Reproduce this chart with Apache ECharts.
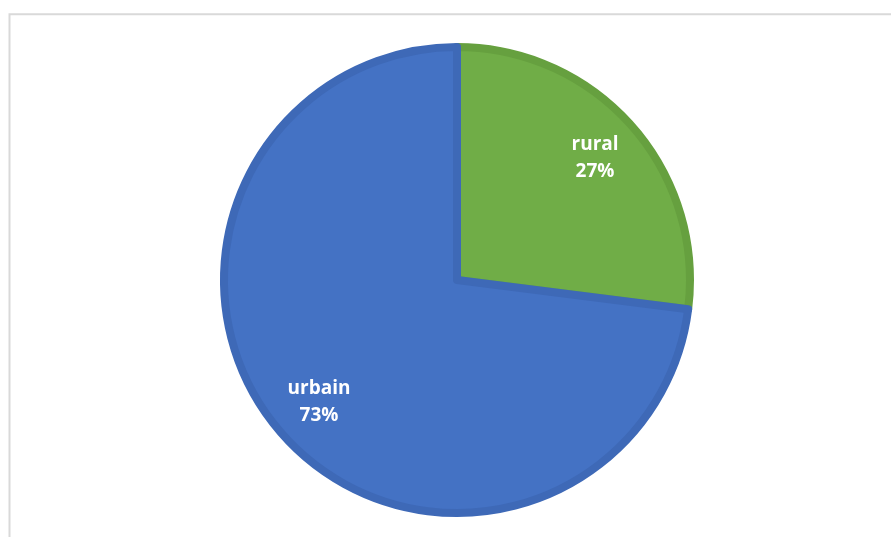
<!DOCTYPE html>
<html>
<head>
<meta charset="utf-8">
<script src="https://cdn.jsdelivr.net/npm/echarts@6/dist/echarts.min.js"></script>
<style>
  html, body { margin: 0; padding: 0; background: #ffffff; }
  #chart { width: 891px; height: 537px; }
</style>
</head>
<body>
<div id="chart"></div>
<script>
// Population split by area type
const categories = ['rural', 'urbain'];
const shares = [27, 73];
const fills = ['#70AD47', '#4472C4'];
const edges = ['#66A03F', '#3E69B7'];

const sliceData = categories.map((name, i) => ({
  name: name,
  value: shares[i],
  itemStyle: { color: fills[i], borderColor: edges[i] }
}));

const labelData = categories.map((name, i) => ({ name: name, value: shares[i] }));

const chart = echarts.init(document.getElementById('chart'), null, { renderer: 'canvas' });
chart.setOption({
  animation: false,
  backgroundColor: '#ffffff',
  graphic: [{
    type: 'rect',
    shape: { x: 9.5, y: 14.3, width: 920, height: 600 },
    style: { fill: 'none', stroke: '#D9D9D9', lineWidth: 2 },
    silent: true
  }],
  series: [
    {
      type: 'pie',
      center: [457, 280],
      radius: [0, 233],
      startAngle: 90,
      clockwise: true,
      itemStyle: { borderWidth: 8 },
      label: { show: false },
      labelLine: { show: false },
      emphasis: { disabled: true },
      data: sliceData
    },
    {
      // transparent ring used only to place the labels further out
      type: 'pie',
      center: [457, 280],
      radius: [150, 212],
      startAngle: 90,
      clockwise: true,
      silent: true,
      itemStyle: { color: 'rgba(0,0,0,0)', borderWidth: 0 },
      label: {
        show: true,
        position: 'inside',
        formatter: '{b}\n{d}%',
        color: '#ffffff',
        fontFamily: 'Open Sans',
        fontWeight: 'bold',
        fontSize: 19,
        lineHeight: 27
      },
      labelLine: { show: false },
      emphasis: { disabled: true },
      data: labelData
    }
  ]
});
</script>
</body>
</html>
